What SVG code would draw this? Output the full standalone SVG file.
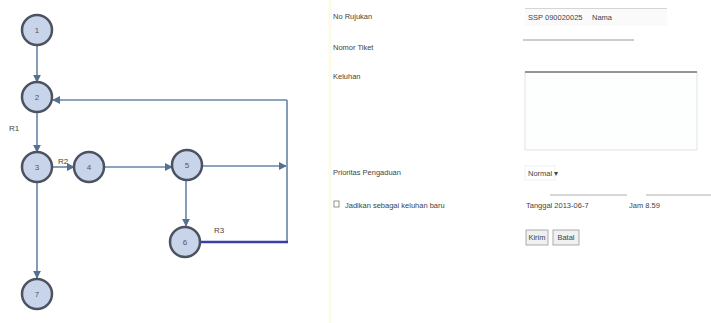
<svg xmlns="http://www.w3.org/2000/svg" width="711" height="323" viewBox="0 0 711 323">
<defs>
<style>
.node circle{fill:#c8d4ea;stroke:#4b5260;stroke-width:2.5}
.node text{font-family:"Liberation Sans",Arial,sans-serif;font-size:8px;fill:#555;text-anchor:middle}
.edge{fill:none;stroke:#6784a8;stroke-width:1.6}
.lbl{font-family:"Liberation Sans",Arial,sans-serif;font-size:8px;fill:#444}
.form{font-family:"Liberation Sans",Arial,sans-serif;font-size:7.5px;fill:#444}
.fld{stroke:#aaa;stroke-width:1;fill:none}
</style>
<marker id="ah" viewBox="0 0 10 10" refX="9" refY="5" markerWidth="5" markerHeight="5" orient="auto">
<path d="M0,0 L10,5 L0,10 z" fill="#56708f"/>
</marker>
</defs>
<rect width="711" height="323" fill="#ffffff"/>
<line x1="330" y1="0" x2="330" y2="323" stroke="#fbfbe8" stroke-width="3"/>

<g id="connectors">
<line class="edge" x1="37" y1="45" x2="37" y2="82" marker-end="url(#ah)"/>
<line class="edge" x1="37" y1="112" x2="37" y2="152" marker-end="url(#ah)"/>
<line class="edge" x1="52" y1="167" x2="74" y2="167" marker-end="url(#ah)"/>
<line class="edge" x1="104" y1="167" x2="172" y2="167" marker-end="url(#ah)"/>
<line class="edge" x1="186" y1="181" x2="186" y2="226" marker-end="url(#ah)"/>
<line class="edge" x1="37" y1="182" x2="37" y2="278" marker-end="url(#ah)"/>
<line class="edge" x1="201" y1="166" x2="286" y2="166" marker-end="url(#ah)"/>
<line class="edge" x1="287" y1="242" x2="287" y2="100"/>
<line class="edge" x1="287" y1="100" x2="53" y2="100" marker-end="url(#ah)"/>
<line x1="200" y1="242" x2="288" y2="242" stroke="#3a3ea8" stroke-width="2.5"/>
</g>

<g id="n1" class="node"><circle cx="37" cy="30" r="15"/><text x="37" y="33">1</text></g>
<g id="n2" class="node"><circle cx="37" cy="97" r="15"/><text x="37" y="100">2</text></g>
<g id="n3" class="node"><circle cx="37" cy="167" r="15"/><text x="37" y="170">3</text></g>
<g id="n4" class="node"><circle cx="89" cy="167" r="15"/><text x="89" y="170">4</text></g>
<g id="n5" class="node"><circle cx="187" cy="165" r="15"/><text x="187" y="168">5</text></g>
<g id="n6" class="node"><circle cx="185" cy="242" r="15"/><text x="185" y="245">6</text></g>
<g id="n7" class="node"><circle cx="37" cy="294" r="15"/><text x="37" y="297">7</text></g>

<g id="labels">
<text class="lbl" x="9" y="131">R1</text>
<text class="lbl" x="58" y="164">R2</text>
<text class="lbl" x="214" y="233">R3</text>
</g>

<g id="form">
<text class="form" x="333" y="19">No Rujukan</text>
<text class="form" x="333" y="50">Nomor Tiket</text>
<text class="form" x="333" y="79">Keluhan</text>
<text class="form" x="333" y="175">Prioritas Pengaduan</text>
<rect x="334" y="201" width="5" height="6" fill="none" stroke="#777" stroke-width="0.8"/>
<text class="form" x="345" y="208">Jadikan sebagai keluhan baru</text>

<line class="fld" x1="525" y1="9" x2="667" y2="9"/>
<rect x="525" y="9" width="142" height="17" fill="#fafafa" stroke="none"/>
<text class="form" x="528" y="20">SSP 090020025</text>
<text class="form" x="592" y="20">Nama</text>
<line x1="523" y1="40" x2="634" y2="40" stroke="#999" stroke-width="1"/>
<rect x="525" y="72" width="172" height="78" fill="#fdfefe" stroke="#ddd" stroke-width="0.8"/>
<line x1="525" y1="72" x2="697" y2="72" stroke="#777" stroke-width="1.5"/>
<rect x="525" y="166" width="30" height="14" fill="none" stroke="#eee" stroke-width="0.8"/>
<text class="form" x="528" y="176">Normal ▾</text>
<line x1="550" y1="195" x2="627" y2="195" stroke="#999" stroke-width="0.8"/>
<line x1="646" y1="195" x2="711" y2="195" stroke="#999" stroke-width="0.8"/>
<text class="form" x="526" y="208">Tanggal 2013-06-7</text>
<text class="form" x="629" y="208">Jam 8.59</text>
<rect x="526" y="230" width="22" height="15" fill="#f0f0f0" stroke="#999" stroke-width="0.8"/>
<text class="form" x="537" y="240" text-anchor="middle">Kirim</text>
<rect x="553" y="230" width="26" height="15" fill="#f0f0f0" stroke="#999" stroke-width="0.8"/>
<text class="form" x="566" y="240" text-anchor="middle">Batal</text>
</g>
</svg>
